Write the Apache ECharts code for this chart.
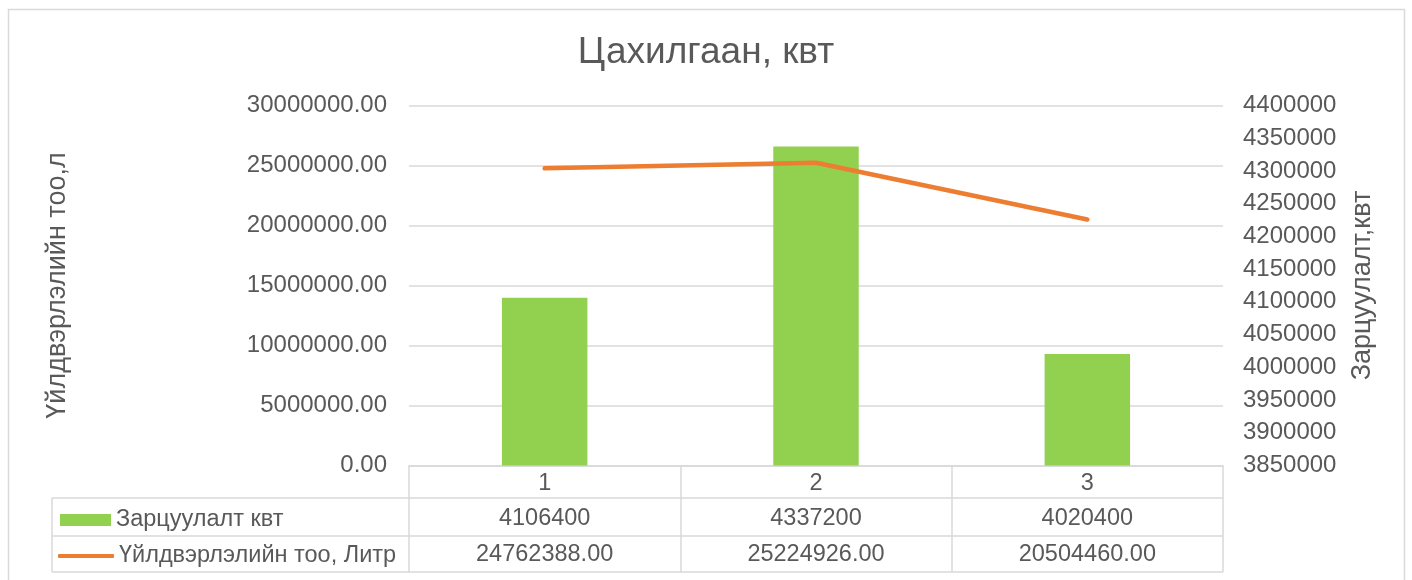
<!DOCTYPE html>
<html><head><meta charset="utf-8">
<script src="https://cdn.jsdelivr.net/npm/echarts@6/dist/echarts.min.js"></script>
<style>html,body{margin:0;padding:0;background:#fff}#c{width:1412px;height:580px}</style>
</head><body><div id="c"></div>
<script>
// ---- data ----
const titleText = 'Цахилгаан, квт';
const categories = ['1', '2', '3'];
const barName = 'Зарцуулалт квт';
const barValues = [4106400, 4337200, 4020400];
const lineName = 'Үйлдвэрлэлийн тоо, Литр';
const lineValues = [24762388.00, 25224926.00, 20504460.00];
const leftAxisName = 'Үйлдвэрлэлийн тоо,л';
const rightAxisName = 'Зарцуулалт,квт';
const leftAxisRange = [0, 30000000, 5000000];
const rightAxisRange = [3850000, 4400000, 50000];

// ---- chart ----
const FONT = "'Liberation Sans', Arial, sans-serif";
const TXT = '#595959';
const GRIDC = '#d9d9d9';
const chart = echarts.init(document.getElementById('c'), null, {renderer: 'canvas'});

const gLeft = 409, gRight = 1223, gTop = 105.5, gBottom = 465.5;
const rowLines = [498, 536, 572];
const tableLeft = 52;

const graphics = [
  {type: 'rect', silent: true, shape: {x: 8.5, y: 9.5, width: 1396, height: 600},
   style: {fill: 'none', stroke: GRIDC, lineWidth: 1.5}}
];
rowLines.forEach(y => graphics.push({type: 'line', silent: true,
  shape: {x1: tableLeft, y1: y, x2: gRight, y2: y}, style: {stroke: GRIDC, lineWidth: 1.5}}));
graphics.push({type: 'line', silent: true,
  shape: {x1: tableLeft, y1: rowLines[0], x2: tableLeft, y2: rowLines[2]}, style: {stroke: GRIDC, lineWidth: 1.5}});

chart.setOption({
  animation: false,
  backgroundColor: '#fff',
  textStyle: {fontFamily: FONT},
  title: {
    text: titleText, left: 'center', top: 29,
    textStyle: {fontFamily: FONT, fontSize: 37, fontWeight: 'normal', color: TXT}
  },
  legend: [
    {
      data: [{name: barName, icon: 'rect'}],
      left: 55, top: 503, itemWidth: 51, itemHeight: 12, itemGap: 0,
      itemStyle: {borderWidth: 0},
      textStyle: {fontFamily: FONT, fontSize: 23.5, color: TXT, lineHeight: 24}
    },
    {
      data: [{name: lineName, icon: 'roundRect'}],
      left: 53, top: 539, itemWidth: 56, itemHeight: 4, itemGap: 0,
      itemStyle: {borderWidth: 0},
      textStyle: {fontFamily: FONT, fontSize: 23.5, color: TXT, lineHeight: 24}
    }
  ],
  grid: {left: gLeft, right: 1412 - gRight, top: gTop, bottom: 580 - gBottom, containLabel: false},
  xAxis: {
    type: 'category', data: categories, boundaryGap: true,
    axisLine: {show: true, lineStyle: {color: GRIDC, width: 1.5}},
    axisTick: {show: true, length: 572 - gBottom, lineStyle: {color: GRIDC, width: 1.5}},
    axisLabel: {
      interval: 0, margin: 0, fontFamily: FONT, fontSize: 23.5, color: TXT, lineHeight: 35.5,
      formatter: (v, i) => v + '\n' + barValues[i] + '\n' + lineValues[i].toFixed(2)
    }
  },
  yAxis: [
    {
      type: 'value', min: leftAxisRange[0], max: leftAxisRange[1], interval: leftAxisRange[2],
      name: leftAxisName, nameLocation: 'middle', nameRotate: 90, nameGap: 338,
      nameTextStyle: {fontFamily: FONT, fontSize: 27, color: TXT},
      axisLine: {show: false}, axisTick: {show: false},
      axisLabel: {fontFamily: FONT, fontSize: 24, color: TXT, margin: 22, formatter: v => v.toFixed(2)},
      splitLine: {show: true, lineStyle: {color: GRIDC, width: 1.5}}
    },
    {
      type: 'value', min: rightAxisRange[0], max: rightAxisRange[1], interval: rightAxisRange[2],
      position: 'right',
      name: rightAxisName, nameLocation: 'middle', nameRotate: 90, nameGap: 126,
      nameTextStyle: {fontFamily: FONT, fontSize: 27, color: TXT},
      axisLine: {show: false}, axisTick: {show: false},
      axisLabel: {fontFamily: FONT, fontSize: 24, color: TXT, margin: 20, formatter: v => String(v)},
      splitLine: {show: false}
    }
  ],
  series: [
    {
      name: barName, type: 'bar', yAxisIndex: 1, data: barValues,
      barWidth: '31.5%', itemStyle: {color: '#92D050'}
    },
    {
      name: lineName, type: 'line', yAxisIndex: 0, data: lineValues,
      symbol: 'none', showSymbol: false, color: '#ED7D31',
      lineStyle: {color: '#ED7D31', width: 4.5, cap: 'round', join: 'round'},
      itemStyle: {color: '#ED7D31'}
    }
  ],
  graphic: graphics
});
</script></body></html>
